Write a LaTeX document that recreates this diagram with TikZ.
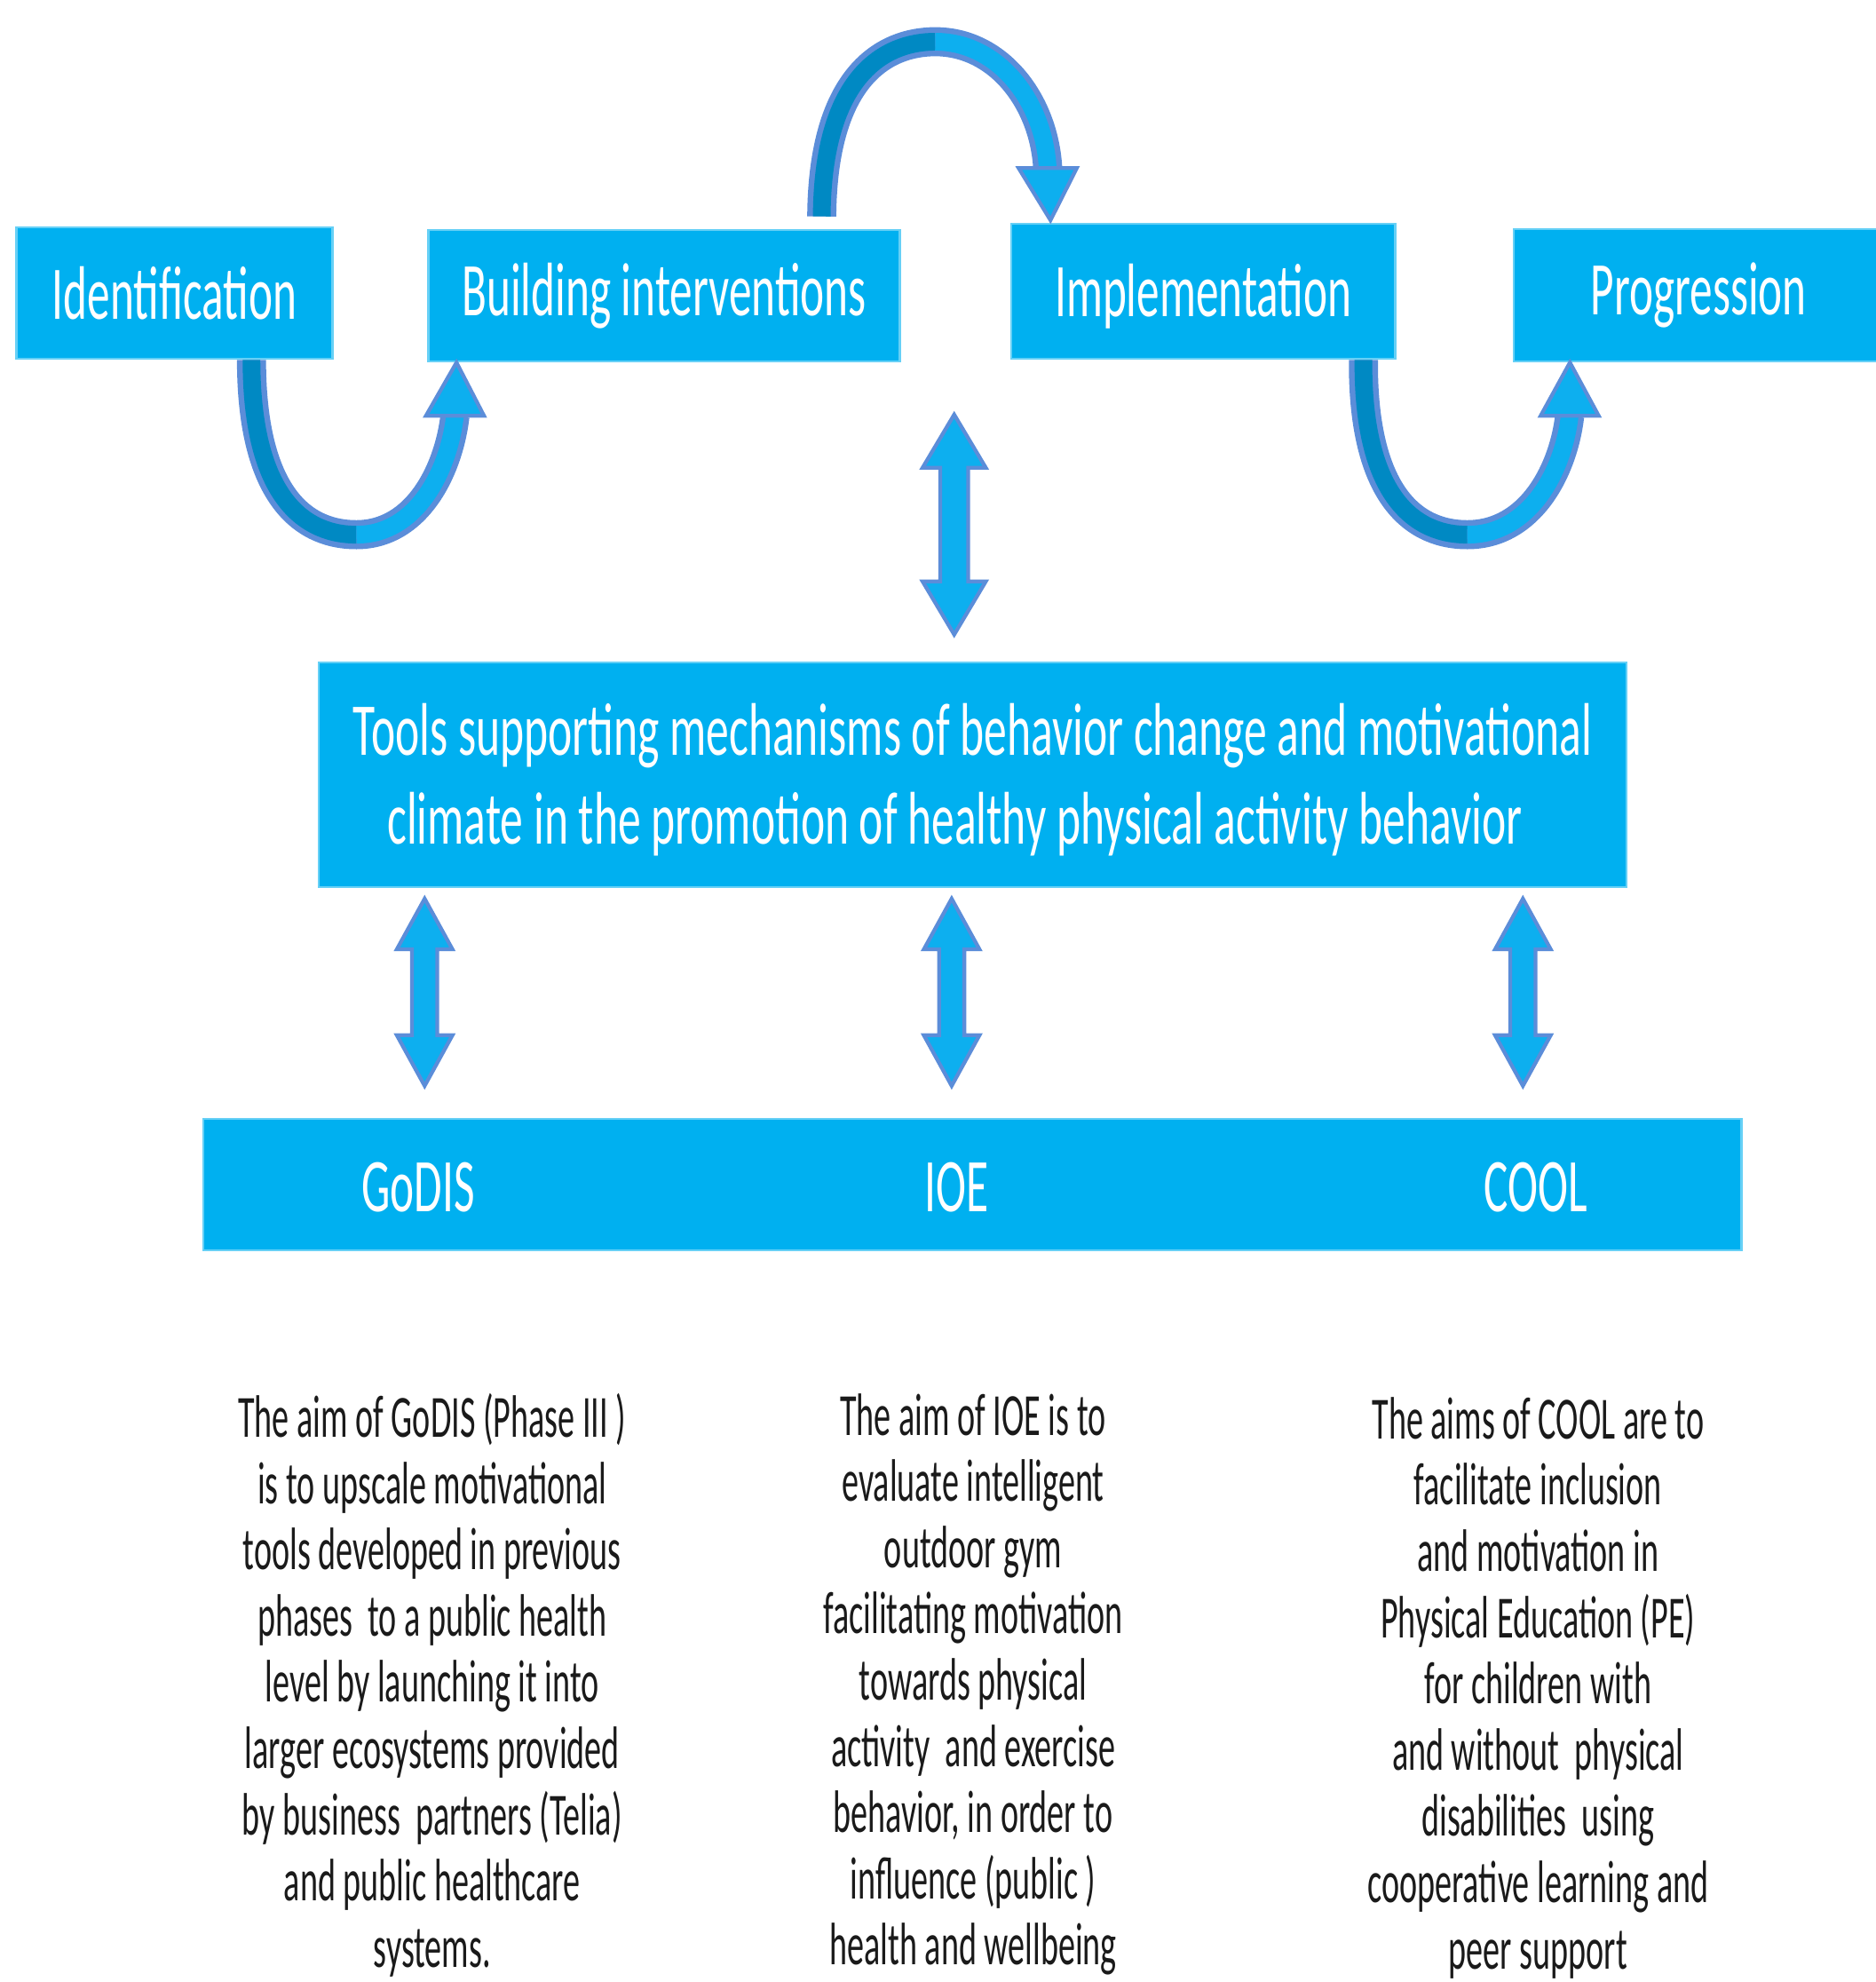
\documentclass[tikz,border=0pt]{standalone}
\usepackage{fontspec}
\setmainfont{Carlito}
\newfontfamily\titlefont{Carlito}[FakeStretch=0.6]
\newfontfamily\toolfont{Carlito}[FakeStretch=0.614]
\newfontfamily\bodyfont{Carlito}[FakeStretch=0.565]
\usetikzlibrary{fit,calc}
\definecolor{boxc}{HTML}{00B0F0}
\definecolor{arrfill}{HTML}{0DAFEF}
\definecolor{arredge}{HTML}{5B8DD9}
\definecolor{arrdark}{HTML}{0089C3}
\definecolor{txt}{HTML}{1A1A1A}
\newcommand\vdarr[6]{\filldraw[arrhead] (#1,#2) -- (#1+#5,#2+#4) -- (#1+#6,#2+#4) -- (#1+#6,#3-#4) -- (#1+#5,#3-#4) -- (#1,#3) -- (#1-#5,#3-#4) -- (#1-#6,#3-#4) -- (#1-#6,#2+#4) -- (#1-#5,#2+#4) -- cycle;}
\begin{document}
\begin{tikzpicture}[x=0.5pt,y=-0.5pt,
 box/.style={fill=boxc, draw=boxc!60!white, line width=0.8pt, inner sep=0pt},
 lab/.style={text=white, inner sep=0pt, align=center, font=\titlefont\fontsize{30}{35}\selectfont},
 ribedge/.style={draw=arredge, line width=11.5pt},
 ribdark/.style={draw=arrdark, line width=7pt},
 riblight/.style={draw=arrfill, line width=7pt},
 arrhead/.style={fill=arrfill, draw=arredge, line width=1.5pt, line join=miter},
 body/.style={text=txt, align=center, inner sep=0pt, anchor=north, font=\bodyfont\fontsize{23.7}{26.2}\selectfont}]
\useasboundingbox (0,0) rectangle (1484,1568);
\fill[white] (0,0) rectangle (1484,1568);

% top row boxes
\node[box, fit={(13,180) (263,284)}, label={[lab]center:Identification}] (ident) {};
\node[box, fit={(339,182) (712,286)}, label={[lab]center:Building interventions}] (build) {};
\node[box, fit={(800,177) (1104,284)}, label={[lab,yshift=-2pt]center:Implementation}] (impl) {};
\node[box, fit={(1198,181) (1490,286)}, label={[lab]center:Progression}] (prog) {};

% central box
\node[box, fit={(252,524) (1287,702)}] (tools) {};
\node[lab, font=\toolfont\fontsize{29.5}{35}\selectfont] (toolstext) at ($(tools.center)+(0,4)$)
 {Tools supporting mechanisms of behavior change and motivational\\climate in the promotion of healthy physical activity behavior\hspace*{14pt}};

% bottom bar
\node[box, fit={(161,885) (1378,989)}] (bar) {};
\node[lab] (lgodis) at (331,939) {GoDIS};
\node[lab] (lioe) at (757,939) {IOE};
\node[lab] (lcool) at (1215,939) {COOL};

% U arrow 1: Identification -> Building interventions
\coordinate (u1s) at ($(ident.south)+(61,0)$);
\coordinate (u1b) at (282,423);
\coordinate (u1a) at (360,329);
\coordinate (u1t) at ($(build.south west)+(23,0)$);
\draw[ribedge] (u1s) .. controls (199,385) and (235,423) .. (u1b) .. controls (330,423) and (355,372) .. (u1a);
\draw[ribdark] (u1s) .. controls (199,385) and (235,423) .. (u1b);
\draw[riblight] (u1b) .. controls (330,423) and (355,372) .. (u1a);
\filldraw[arrhead] (u1t) -- ($(u1a)+(23,0)$) -- ($(u1a)+(-23,0)$) -- cycle;

% top arc: Building interventions -> Implementation
\coordinate (tas) at ($(build.north west)+(312,-10)$);
\coordinate (tat) at (740,33);
\coordinate (taa) at (829,133);
\coordinate (tae) at ($(impl.north west)+(32,-2)$);
\draw[ribedge] (tas) .. controls (651,60) and (700,33) .. (tat) .. controls (790,33) and (826,80) .. (taa);
\draw[ribdark] (tas) .. controls (651,60) and (700,33) .. (tat);
\draw[riblight] (tat) .. controls (790,33) and (826,80) .. (taa);
\filldraw[arrhead] (tae) -- ($(taa)+(23,0)$) -- ($(taa)+(-23,0)$) -- cycle;

% U arrow 3: Implementation -> Progression
\coordinate (u3s) at ($(impl.south east)+(-26,0)$);
\coordinate (u3b) at (1161,423);
\coordinate (u3a) at (1242,329);
\coordinate (u3t) at ($(prog.south west)+(45,0)$);
\draw[ribedge] (u3s) .. controls (1078,385) and (1114,423) .. (u3b) .. controls (1211,423) and (1237,372) .. (u3a);
\draw[ribdark] (u3s) .. controls (1078,385) and (1114,423) .. (u3b);
\draw[riblight] (u3b) .. controls (1211,423) and (1237,372) .. (u3a);
\filldraw[arrhead] (u3t) -- ($(u3a)+(23,0)$) -- ($(u3a)+(-23,0)$) -- cycle;

% double arrows
\vdarr{755}{328}{502}{42}{25}{11}
\vdarr{336}{711}{859}{40}{22}{10}
\vdarr{753}{711}{859}{40}{22}{10}
\vdarr{1205}{711}{859}{40}{22}{10}

% description texts
\node[body] (tgodis) at (342,1102) {The aim of GoDIS (Phase III )\\ is to upscale motivational\\ tools developed in previous\\ phases~ to a public health\\ level by launching it into\\ larger ecosystems provided\\ by business~ partners (Telia)\\ and public healthcare\\ systems.};
\node[body] (tioe) at (770,1102) {The aim of IOE is to\\ evaluate intelligent\\ outdoor gym\\ facilitating motivation\\ towards physical\\ activity~ and exercise\\ behavior, in order to\\ influence (public )\\ health and wellbeing};
\node[body] (tcool) at (1217,1105) {The aims of COOL are to\\ facilitate inclusion\\ and motivation in\\ Physical Education (PE)\\ for children with\\ and without~ physical\\ disabilities~ using\\ cooperative learning and\\ peer support};
\end{tikzpicture}
\end{document}
